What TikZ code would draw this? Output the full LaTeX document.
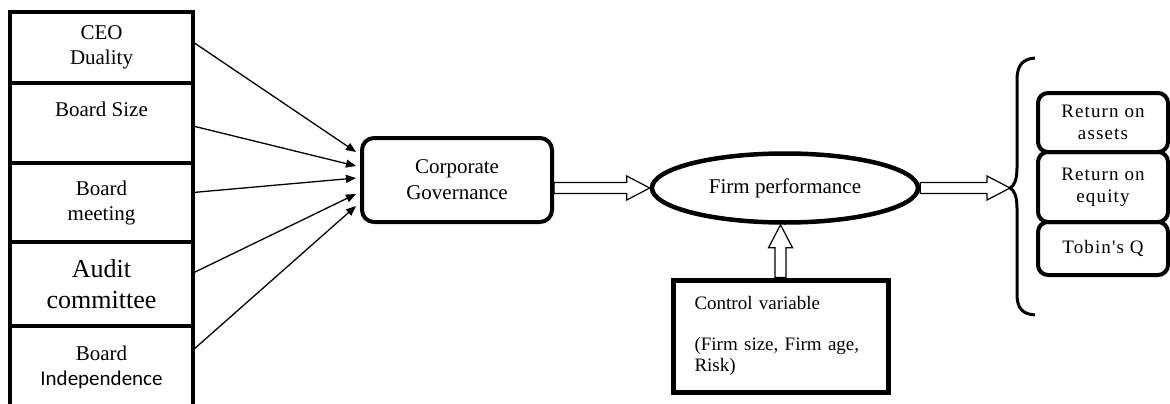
\documentclass[tikz,border=0pt]{standalone}
\usepackage{fontspec}
\setmainfont{Liberation Serif}
\newfontfamily\calibri{Carlito}
\newfontfamily\spaced[LetterSpace=6]{Liberation Serif}
\usetikzlibrary{positioning,shapes.geometric,calc,arrows.meta}

\tikzset{
  leftbox/.style={draw, line width=4.5pt, minimum width=183pt, outer sep=0pt, inner sep=2pt, align=center, font=\fontsize{21}{25}\selectfont},
  rightbox/.style={draw, line width=4pt, rounded corners=10pt, minimum width=130pt, outer sep=0pt, inner sep=2pt, align=center, font=\spaced\fontsize{19}{22}\selectfont},
  thinarrow/.style={line width=1.3pt, -{Triangle[length=10pt,width=8pt]}},
  hollow/.style={line width=1.2pt, line join=miter}
}

\newcommand{\hollowarrow}[2]{%
  \draw[hollow] ($(#1)!5.5pt!90:(#2)$) -- ($(#2)!23pt!(#1)!5.5pt!-90:(#1)$)
    -- ($(#2)!23pt!(#1)!12pt!-90:(#1)$) -- (#2)
    -- ($(#2)!23pt!(#1)!12pt!90:(#1)$) -- ($(#2)!23pt!(#1)!5.5pt!90:(#1)$)
    -- ($(#1)!5.5pt!-90:(#2)$) -- cycle;}

\begin{document}
\begin{tikzpicture}[x=1pt, y=-1pt]
  \useasboundingbox (0,0) rectangle (1170,404);

  % Left boxes
  \node[leftbox, minimum height=71pt, anchor=north] (b1) at (101.5,12) {CEO\\Duality};
  \node[leftbox, minimum height=80pt, text depth=27pt, below=0pt of b1] (b2) {Board Size};
  \node[leftbox, minimum height=79pt, below=0pt of b2] (b3) {Board\\meeting};
  \node[leftbox, minimum height=84pt, below=0pt of b3, font=\fontsize{26}{31}\selectfont] (b4) {Audit\\committee};
  \node[leftbox, minimum height=82pt, below=0pt of b4] (b5) {Board\\{\calibri\fontsize{21}{25}\selectfont Independence}};

  % Middle nodes
  \node[draw, line width=4pt, rounded corners=12pt, minimum width=190pt, minimum height=84pt,
        align=center, font=\fontsize{21}{26}\selectfont] (cg) at (457,180) {Corporate\\Governance};
  \node[draw, ellipse, line width=4.5pt, minimum width=266pt, minimum height=69pt, inner sep=0pt,
        font=\fontsize{21}{25}\selectfont] (fp) at (785,188) {Firm performance};
  \node[draw, line width=5pt, minimum width=215pt, minimum height=112pt, text width=172pt,
        align=left, font=\fontsize{19}{20.5}\selectfont] (cv) at (780.5,336)
        {Control variable\\[20.5pt](Firm size, Firm age,\\Risk)};

  % Right boxes
  \node[rightbox, minimum height=59pt, anchor=north] (r1) at (1103,93) {Return on\\assets};
  \node[rightbox, minimum height=70pt, below=0pt of r1] (r2) {Return on\\equity};
  \node[rightbox, minimum height=53pt, below=0pt of r2] (r3) {Tobin's Q};

  % Brace
  \coordinate (tip) at (1010,188);
  \draw[line width=3pt] (1035,58) .. controls (1022,59) and (1017,66) .. (1017,80)
    -- (1017,168) .. controls (1017,180) and (1014,186) .. (tip)
    .. controls (1014,190) and (1017,196) .. (1017,208)
    -- (1017,294) .. controls (1017,308) and (1022,314) .. (1035,315);

  % Thin arrows
  \foreach \b/\dy/\ey in {b1/5.5/28, b2/-3/14, b3/10/2, b4/11/-14, b5/17/-26}
    \draw[thinarrow] ([yshift=\dy pt]\b.east) -- ([xshift=-4pt, yshift=\ey pt]cg.west);

  % Hollow arrows
  \coordinate (cgout) at (cg.east |- fp.west);
  \coordinate (cvtop) at (cv.north);
  \coordinate (fpin) at (cv.north |- fp.south);
  \hollowarrow{cgout}{fp.west}
  \hollowarrow{fp.east}{tip}
  \hollowarrow{cvtop}{fpin}
\end{tikzpicture}
\end{document}
